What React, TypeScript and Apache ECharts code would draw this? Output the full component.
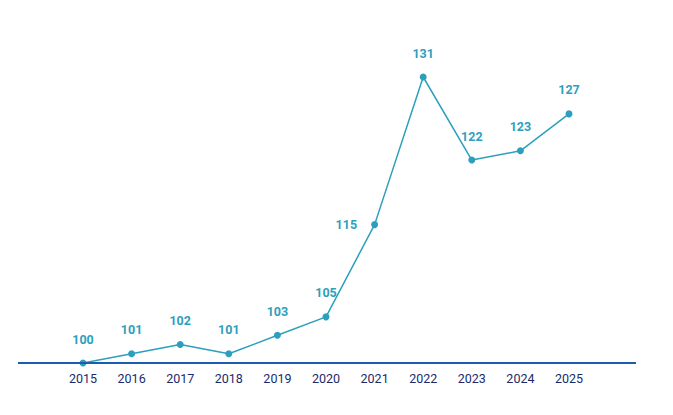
import React, { useEffect, useRef } from "react";
import * as echarts from "echarts";

const years = ["2015","2016","2017","2018","2019","2020","2021","2022","2023","2024","2025"];
const values = [100,101,102,101,103,105,115,131,122,123,127];

export default function App() {
  const ref = useRef<HTMLDivElement>(null);
  useEffect(() => {
    const chart = echarts.init(ref.current!, null, { renderer: "svg" });
    chart.setOption({
      animation: false,
      grid: { left: 75, right: 96, top: 69, bottom: 60 },
      xAxis: {
        type: "category", data: years, boundaryGap: false,
        axisLine: { show: false }, axisTick: { show: false },
        axisLabel: { color: "#1b2a6b", fontFamily: "Roboto", fontSize: 12.5, margin: 9 },
      },
      yAxis: { type: "value", min: 100, max: 131, show: false, splitLine: { show: false } },
      graphic: [{
        type: "line", shape: { x1: 10, y1: 355, x2: 628, y2: 355 },
        style: { stroke: "#1a5cb0", lineWidth: 2 }, z: 10,
      }],
      series: [{
        type: "line",
        data: values.map((v, i) =>
          i === 6 ? { value: v, label: { position: "left", distance: 14, offset: [0, 0] } } : v),
        symbol: "circle", symbolSize: 7,
        lineStyle: { color: "#2d9fbd", width: 1.5 },
        itemStyle: { color: "#2d9fbd" },
        label: {
          show: true, position: "top", distance: 14, color: "#2d9fbd",
          fontFamily: "Roboto", fontWeight: "bold", fontSize: 12.5,
        },
      }],
    });
    return () => chart.dispose();
  }, []);
  return <div ref={ref} style={{ width: 657, height: 415 }} />;
}
